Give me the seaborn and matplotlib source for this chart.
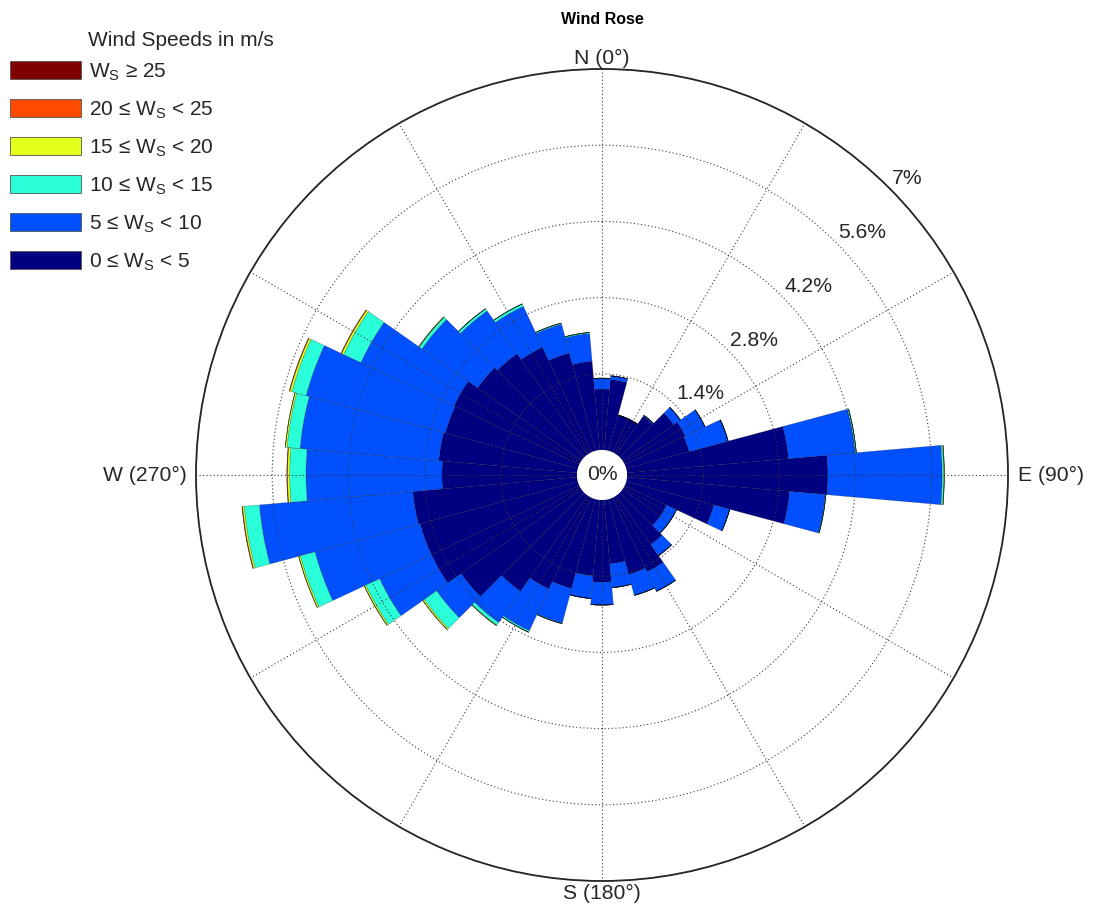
import numpy as np
import matplotlib
matplotlib.use("Agg")
import matplotlib.pyplot as plt
from matplotlib.patches import Patch
import seaborn as sns

# Direction bins (degrees, clockwise from north), 10 degree sectors
directions = np.arange(0, 360, 10)

# Frequency (%) of each speed class per direction sector
ws_0_5 = [1.12, 1.30, 0.68, 0.68, 0.86, 1.15, 1.23, 1.20, 2.98, 3.69, 3.00, 1.67,
          0.85, 0.85, 1.10, 1.50, 1.43, 1.18, 1.51, 1.40, 1.70, 1.85, 2.15, 2.70,
          3.00, 3.00, 3.03, 2.48, 2.55, 2.52, 2.54, 2.33, 2.26, 2.13, 1.86, 1.64]
ws_5_10 = [0.20, 0.07, 0.00, 0.00, 0.02, 0.15, 0.40, 0.74, 1.23, 2.10, 0.66, 0.30,
           0.20, 0.20, 0.25, 0.40, 0.40, 0.44, 0.42, 0.42, 0.66, 0.85, 0.70, 0.55,
           1.05, 2.00, 2.83, 2.50, 2.56, 2.65, 1.89, 1.25, 0.96, 0.83, 0.55, 0.51]
ws_10_15 = [0.00, 0.00, 0.00, 0.00, 0.00, 0.00, 0.00, 0.00, 0.02, 0.03, 0.01, 0.00,
            0.00, 0.00, 0.00, 0.00, 0.00, 0.00, 0.00, 0.00, 0.01, 0.03, 0.06, 0.28,
            0.28, 0.28, 0.28, 0.30, 0.24, 0.27, 0.35, 0.06, 0.05, 0.05, 0.02, 0.02]
ws_15_20 = [0.00, 0.00, 0.00, 0.00, 0.00, 0.00, 0.00, 0.00, 0.00, 0.01, 0.00, 0.00,
            0.00, 0.00, 0.00, 0.00, 0.00, 0.00, 0.00, 0.00, 0.00, 0.00, 0.01, 0.03,
            0.03, 0.03, 0.03, 0.04, 0.03, 0.04, 0.04, 0.01, 0.00, 0.00, 0.00, 0.00]
ws_20_25 = [0.00, 0.00, 0.00, 0.00, 0.00, 0.00, 0.00, 0.00, 0.00, 0.00, 0.00, 0.00,
            0.00, 0.00, 0.00, 0.00, 0.00, 0.00, 0.00, 0.00, 0.00, 0.00, 0.00, 0.00,
            0.00, 0.00, 0.01, 0.01, 0.00, 0.01, 0.01, 0.00, 0.00, 0.00, 0.00, 0.00]
ws_25_up = [0.00] * 36

speed_classes = [ws_0_5, ws_5_10, ws_10_15, ws_15_20, ws_20_25, ws_25_up]
speed_labels = ["0 \u2264 W$_\\mathregular{S}$ < 5",
                "5 \u2264 W$_\\mathregular{S}$ < 10",
                "10 \u2264 W$_\\mathregular{S}$ < 15",
                "15 \u2264 W$_\\mathregular{S}$ < 20",
                "20 \u2264 W$_\\mathregular{S}$ < 25",
                "W$_\\mathregular{S}$ \u2265 25"]
speed_colors = ["#000080", "#0050FF", "#29FFD8", "#E4FF1A", "#FF4A00", "#800000"]

ring_values = [1.4, 2.8, 4.2, 5.6, 7.0]
ring_labels = ["1.4%", "2.8%", "4.2%", "5.6%", "7%"]
compass_labels = {0: "N (0\u00b0)", 90: "E (90\u00b0)", 180: "S (180\u00b0)", 270: "W (270\u00b0)"}

sns.set_theme(style="white")
plt.rcParams["font.family"] = ["Liberation Sans", "DejaVu Sans"]
plt.rcParams["text.color"] = "#262626"

fig = plt.figure(figsize=(10.94, 9.15), dpi=100)
ax = fig.add_axes([0.17916, 0.03716, 0.74223, 0.88743], projection="polar")
ax.set_theta_zero_location("N")
ax.set_theta_direction(-1)

theta = np.deg2rad(directions)
width = np.deg2rad(10)
bottom = np.zeros(len(directions))
for vals, col in zip(speed_classes, speed_colors):
    vals = np.asarray(vals)
    ax.bar(theta, vals, width=width, bottom=bottom, color=col,
           edgecolor=(0, 0, 0, 0.35), linewidth=0.4, align="center", zorder=1)
    bottom = bottom + vals

rmax = ring_values[-1]
ax.set_ylim(0, rmax)
ax.set_rorigin(-0.459)

ax.set_thetagrids(np.arange(0, 360, 30), labels=[""] * 12)
ax.set_rgrids(ring_values, labels=[""] * len(ring_values))
ax.set_axisbelow(False)
ax.grid(True, color="#3a3a3a", linestyle=(0, (1, 2.2)), linewidth=0.8)
ax.spines["polar"].set_color("#222222")
ax.spines["polar"].set_linewidth(1.3)
ax.spines["inner"].set_linewidth(0)
ax.spines["inner"].set_edgecolor("none")

label_fs = 15.2
for ang, txt in compass_labels.items():
    ha = {0: "center", 90: "left", 180: "center", 270: "right"}[ang]
    va = {0: "bottom", 90: "center", 180: "top", 270: "center"}[ang]
    off = {0: (0, 1), 90: (7, 0), 180: (0, -2), 270: (-7, 0)}[ang]
    ax.annotate(txt, xy=(np.deg2rad(ang), rmax), xytext=off, textcoords="offset points",
                ha=ha, va=va, fontsize=label_fs, annotation_clip=False)

for rv, rl in zip(ring_values, ring_labels):
    ax.annotate(rl, xy=(np.deg2rad(45), rv), xytext=(2, 0), textcoords="offset points",
                ha="left", va="bottom", fontsize=label_fs, annotation_clip=False)

ax.text(0.5, 0.5, "0%", transform=ax.transAxes, ha="center", va="center",
        fontsize=label_fs)

fig.text(602 / 1094, 1 - 19 / 915, "Wind Rose", ha="center", va="center",
         fontsize=11.5, fontweight="bold", color="black")

handles = [Patch(facecolor=c, edgecolor="#555555", linewidth=0.6, label=l)
           for c, l in zip(speed_colors, speed_labels)][::-1]
fig.legend(handles=handles, loc="upper left", bbox_to_anchor=(10 / 1094, 1 - 61 / 915),
           frameon=False, fontsize=15, handlelength=3.4, handleheight=0.95,
           handletextpad=0.38, labelspacing=0.78, borderpad=0, borderaxespad=0)
fig.text(88 / 1094, 1 - 40 / 915, "Wind Speeds in m/s", ha="left", va="center", fontsize=15)

fig.savefig("out.png", dpi=100)
